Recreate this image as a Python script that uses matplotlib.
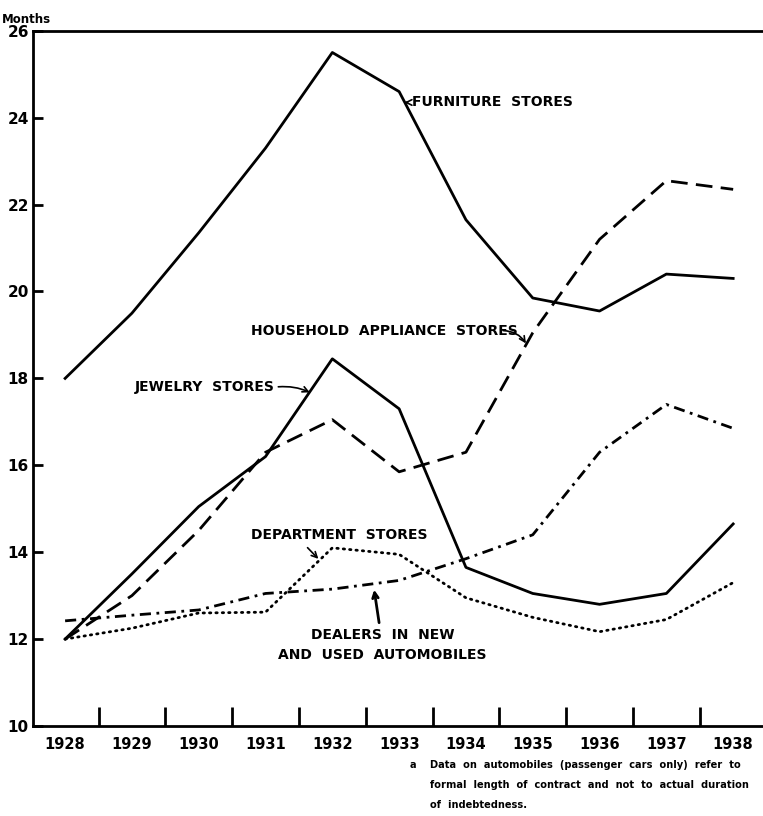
import numpy as np
import matplotlib.pyplot as plt

years = [1928, 1929, 1930, 1931, 1932, 1933, 1934, 1935, 1936, 1937, 1938]
furniture = [18.0, 19.5, 21.35, 23.3, 25.5, 24.6, 21.65, 19.85, 19.55, 20.4, 20.3]
household = [12.0, 13.0, 14.5, 16.3, 17.05, 15.85, 16.3, 19.05, 21.2, 22.55, 22.35]
jewelry = [12.0, 13.5, 15.05, 16.2, 18.45, 17.3, 13.65, 13.05, 12.8, 13.05, 14.65]
department = [12.0, 12.25, 12.6, 12.62, 14.1, 13.95, 12.95, 12.5, 12.17, 12.45, 13.3]
dealers = [12.42, 12.55, 12.67, 13.05, 13.15, 13.35, 13.85, 14.4, 16.3, 17.4, 16.85]

yticks = [10, 12, 14, 16, 18, 20, 22, 24, 26]

plt.rcParams['font.family'] = ['DejaVu Sans']
plt.rcParams['font.weight'] = 'bold'

fig = plt.figure(figsize=(7.63, 8.16), dpi=100)
ax = fig.add_axes([0.0433, 0.1103, 0.957, 0.852])

k = dict(color='black', lw=2)
ax.plot(years, furniture, ls='-', **k)
ax.plot(years, jewelry, ls='-', **k)
ax.plot(years, household, ls=(0, (6, 3)), **k)
ax.plot(years, department, ls=(0, (0.5, 1.8)), color='black', lw=2,
        dash_capstyle='round')
ax.plot(years, dealers, ls=(0, (4, 2, 1, 2)), **k)

ax.set_xlim(1927.52, 1938.45)
ax.set_ylim(10, 26)

ax.spines['right'].set_visible(False)
for s in ['left', 'bottom', 'top']:
    ax.spines[s].set_linewidth(2)

ax.set_yticks(yticks)
ax.set_yticklabels([str(t) for t in yticks], fontsize=11)
ax.tick_params(axis='y', direction='in', length=7, width=2, pad=3)

# ticks between years, labels on the years
ax.set_xticks(np.array(years[:-1]) + 0.5)
ax.set_xticklabels([])
ax.tick_params(axis='x', which='major', direction='in', length=14, width=2)
ax.set_xticks(years, minor=True)
ax.set_xticklabels([str(y) for y in years], minor=True, fontsize=10.5)
ax.tick_params(axis='x', which='minor', length=0, pad=8)

fig.text(0.002, 0.976, 'Months', fontsize=8.5, ha='left', va='center')

fs = 10
arw = dict(arrowstyle='->', color='black', lw=1.2)
ax.annotate('FURNITURE  STORES', xy=(1933.08, 24.35), xytext=(1933.2, 24.35),
            fontsize=fs, va='center', ha='left', arrowprops=arw)

ax.text(1930.78, 19.1, 'HOUSEHOLD  APPLIANCE  STORES', fontsize=fs,
        va='center', ha='left')
ax.annotate('', xy=(1934.92, 18.75), xytext=(1934.52, 19.1),
            arrowprops=dict(arw, connectionstyle='arc3,rad=-0.3'))

ax.text(1929.05, 17.8, 'JEWELRY  STORES', fontsize=fs, va='center', ha='left')
ax.annotate('', xy=(1931.7, 17.65), xytext=(1931.15, 17.8),
            arrowprops=dict(arw, connectionstyle='arc3,rad=-0.15'))

ax.text(1930.78, 14.4, 'DEPARTMENT  STORES', fontsize=fs, va='center',
        ha='left')
ax.annotate('', xy=(1931.82, 13.8), xytext=(1931.6, 14.15), arrowprops=arw)

ax.annotate('DEALERS  IN  NEW\nAND  USED  AUTOMOBILES', xy=(1932.62, 13.2),
            xytext=(1932.75, 12.25), fontsize=fs, va='top', ha='center',
            linespacing=1.5, arrowprops=dict(arw, lw=2))

fs2 = 7.1
fig.text(0.537, 0.062, 'a', fontsize=fs2, ha='left', va='center')
fig.text(0.563, 0.062, 'Data  on  automobiles  (passenger  cars  only)  refer  to',
         fontsize=fs2, ha='left', va='center')
fig.text(0.563, 0.038, 'formal  length  of  contract  and  not  to  actual  duration',
         fontsize=fs2, ha='left', va='center')
fig.text(0.563, 0.014, 'of  indebtedness.', fontsize=fs2, ha='left', va='center')

fig.savefig('out.png', dpi=100)
